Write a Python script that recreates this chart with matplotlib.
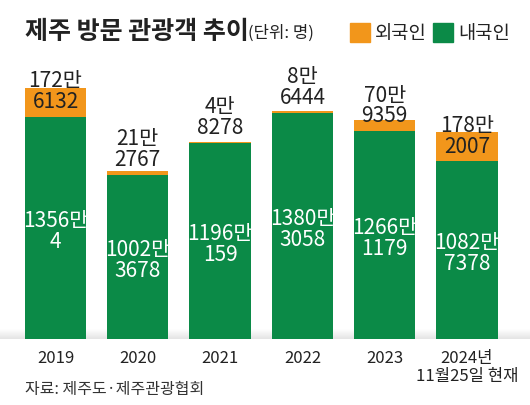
import matplotlib.pyplot as plt
import numpy as np

plt.rcParams['font.family'] = ['Noto Sans CJK KR', 'DejaVu Sans']

years = ["2019", "2020", "2021", "2022", "2023", "2024년\n11월25일 현재"]
# values in 만 (10,000 persons)
domestic = [1356.0004, 1002.3678, 1196.0159, 1380.3058, 1266.1179, 1082.7378]
foreign = [172.6132, 21.2767, 4.8278, 8.6444, 70.9359, 178.2007]
domestic_labels = ["1356만\n4", "1002만\n3678", "1196만\n159", "1380만\n3058", "1266만\n1179", "1082만\n7378"]
foreign_labels = ["172만\n6132", "21만\n2767", "4만\n8278", "8만\n6444", "70만\n9359", "178만\n2007"]

GREEN = "#0b8a47"
ORANGE = "#f2961b"
TEXT = "#222222"

fig = plt.figure(figsize=(5.3, 4.06), dpi=100)
ax = fig.add_axes([0, 66 / 406, 1, (340 - 80) / 406])

x = np.arange(len(years))
spacing = 82.3
xlim = (-55.5 / spacing, (530 - 55.5) / spacing)
ax.set_xlim(*xlim)
ax.set_ylim(0, (340 - 80) / 16.4 * 100)

w = 0.745
ax.bar(x, domestic, width=w, color=GREEN, zorder=3)
ax.bar(x, foreign, width=w, bottom=domestic, color=ORANGE, zorder=3)

# faint floor shadow (gradient)
grad = np.linspace(0, 1, 50).reshape(-1, 1)
ax.imshow(grad, extent=(xlim[0], xlim[1], 0, 60), origin="lower", aspect="auto",
          cmap=plt.matplotlib.colors.LinearSegmentedColormap.from_list("s", ["#e4e4e4", "#ffffff"]),
          zorder=1)
ax.set_xlim(*xlim)
ax.set_ylim(0, (340 - 80) / 16.4 * 100)

for i in range(len(years)):
    ax.text(x[i], domestic[i] / 2 - 15, domestic_labels[i], color="white",
            ha="center", va="center", fontsize=15, linespacing=0.92, zorder=4)
    ax.text(x[i], domestic[i] + 30, foreign_labels[i], color=TEXT,
            ha="center", va="bottom", fontsize=15, linespacing=0.92, zorder=4)

ax.axis("off")

for i, y in enumerate(years):
    fig.text((55.5 + i * spacing) / 530, 1 - 350 / 406, y, ha="center", va="top",
             fontsize=12, color=TEXT, linespacing=1.05)

fig.text(25 / 530, 1 - 32 / 406, "제주 방문 관광객 추이", fontsize=18, fontweight="bold",
         color=TEXT, va="center", ha="left")
fig.text(248 / 530, 1 - 33 / 406, "(단위: 명)", fontsize=12, color=TEXT, va="center", ha="left")

# legend
fig.patches.append(plt.Rectangle((350 / 530, 1 - 43 / 406), 20 / 530, 19 / 406,
                                 transform=fig.transFigure, color=ORANGE))
fig.text(375 / 530, 1 - 33 / 406, "외국인", fontsize=13.5, color=TEXT, va="center", ha="left")
fig.patches.append(plt.Rectangle((433 / 530, 1 - 43 / 406), 20 / 530, 19 / 406,
                                 transform=fig.transFigure, color=GREEN))
fig.text(458 / 530, 1 - 33 / 406, "내국인", fontsize=13.5, color=TEXT, va="center", ha="left")

fig.text(25 / 530, 1 - 390 / 406, "자료: 제주도·제주관광협회", fontsize=11.5, color="#333333",
         va="center", ha="left")

fig.savefig("out.png", dpi=100, facecolor="white")
